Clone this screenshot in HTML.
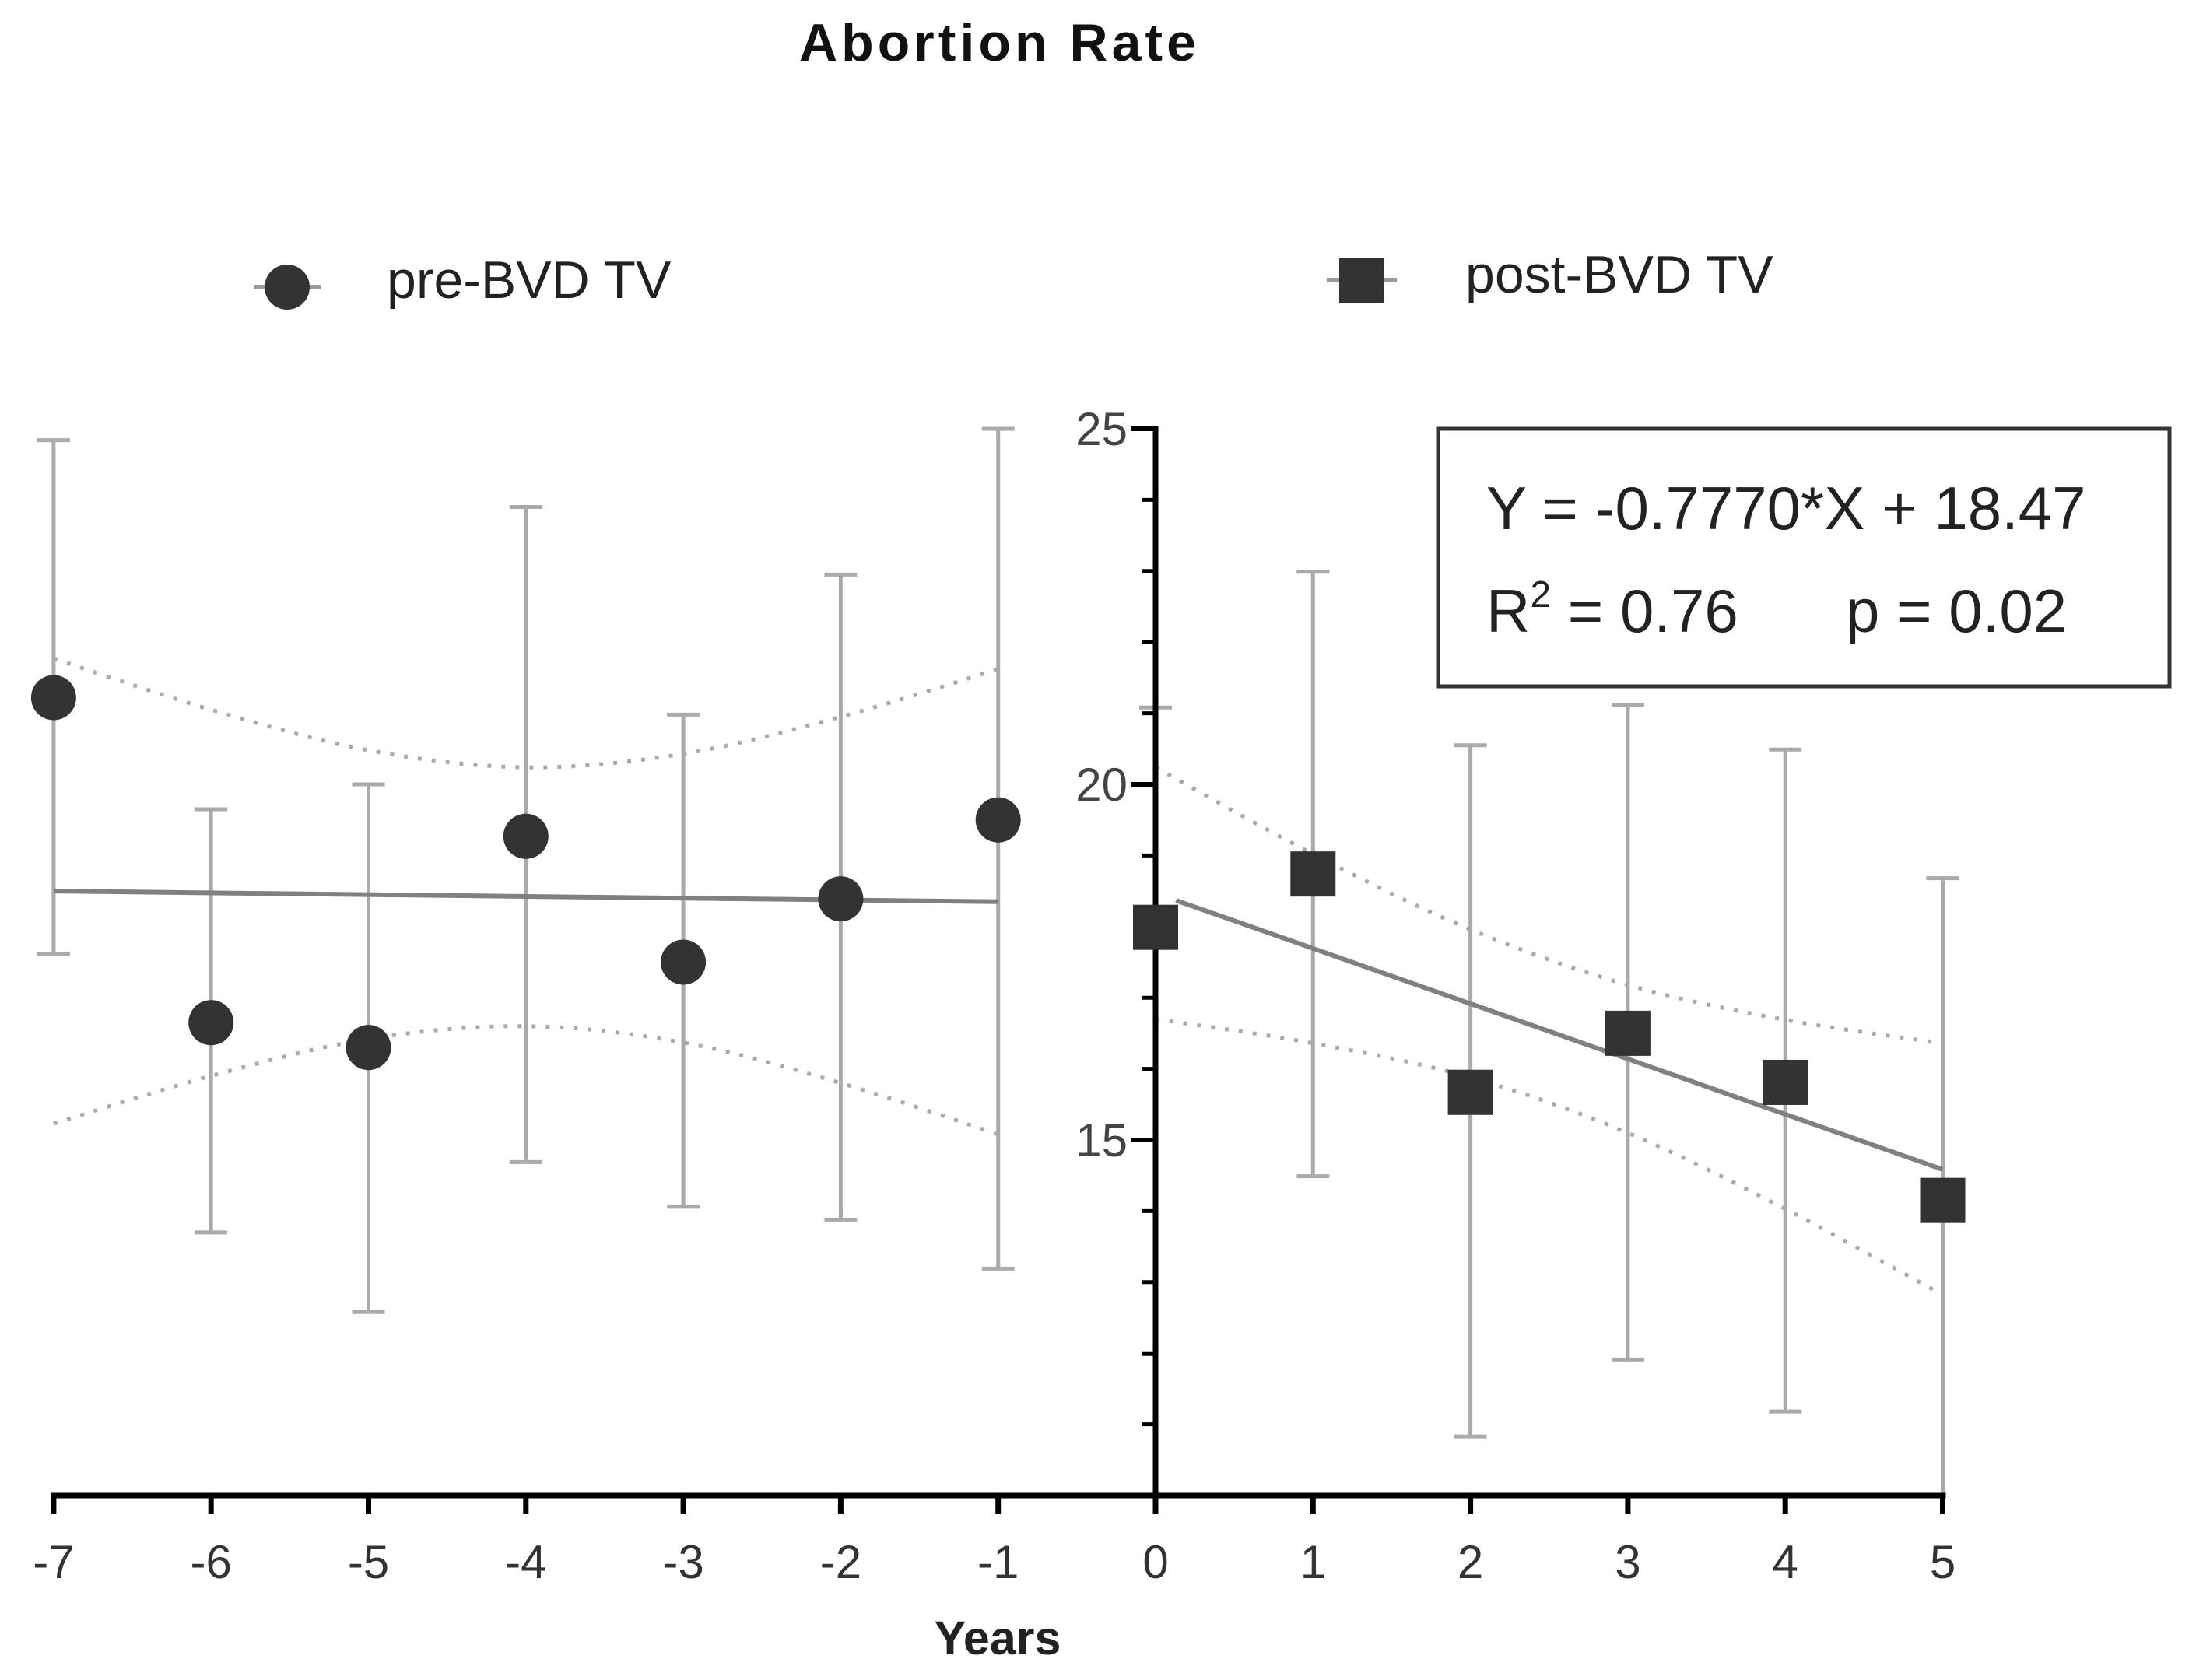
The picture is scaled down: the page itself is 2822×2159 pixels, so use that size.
<!DOCTYPE html>
<html><head><meta charset="utf-8"><style>
html,body{margin:0;padding:0;background:#fff}
svg{display:block;font-family:"Liberation Sans",Arial,sans-serif}
</style></head><body>
<svg id="chart" width="2822" height="2159" viewBox="0 0 2822 2159">
<text x="1282" y="78" text-anchor="middle" font-size="68" font-weight="bold" fill="#111" textLength="510">Abortion Rate</text>
<g>
 <g>
  <line x1="326" y1="369" x2="412" y2="369" stroke="#999" stroke-width="6"/>
  <circle cx="369" cy="369" r="29" fill="#333"/>
  <text x="497" y="383" font-size="68" fill="#222">pre-BVD TV</text>
 </g>
 <g>
  <line x1="1705" y1="360" x2="1795" y2="360" stroke="#999" stroke-width="6"/>
  <rect x="1721" y="331" width="58" height="58" fill="#333"/>
  <text x="1883" y="376" font-size="68" fill="#222">post-BVD TV</text>
 </g>
</g>
<g id="plot"></g>
<g>
 <rect x="1848" y="551" width="940" height="331" fill="#fff" stroke="#333" stroke-width="5"/>
 <text x="1910" y="680" font-size="78" fill="#222">Y = -0.7770*X + 18.47</text>
 <text x="1910" y="812" font-size="78" fill="#222">R<tspan font-size="48" dy="-32">2</tspan><tspan dy="32"> = 0.76</tspan><tspan x="2372">p = 0.02</tspan></text>
</g>
<text x="1282" y="2126" text-anchor="middle" font-size="61" font-weight="bold" fill="#222">Years</text>
</svg>
<script>
const preYears=[-7,-6,-5,-4,-3,-2,-1];
const preMean=[21.22,16.65,16.3,19.27,17.5,18.39,19.5];
const preHi=[24.84,19.65,20.0,23.9,20.98,22.95,25.0];
const preLo=[17.62,13.7,12.58,14.69,14.06,13.88,13.19];
const preFit=[18.5,18.475,18.45,18.425,18.4,18.375,18.35];
const preBandHi=[21.77,21.05,20.48,20.24,20.43,20.95,21.62];
const preBandLo=[15.23,15.9,16.42,16.6,16.37,15.8,15.08];
const postYears=[0,1,2,3,4,5];
const postMean=[17.99,18.74,15.67,16.5,15.81,14.15];
const postHi=[21.08,22.99,20.55,21.12,20.49,18.68];
const postLo=[10,14.49,10.83,11.91,11.18,10];
const postFitStart=[0.13,5];
const postSlope=-0.777, postIntercept=18.47;
const postBandHi=[20.24,19.02,17.96,17.18,16.69,16.36];
const postBandLo=[16.70,16.36,15.88,15.10,14.03,12.82];
const xTicks=[-7,-6,-5,-4,-3,-2,-1,0,1,2,3,4,5];
const yTicks=[25,20,15];

const NS="http://www.w3.org/2000/svg";
const g=document.getElementById('plot');
const X=v=>1485+v*202.3;
const Y=v=>551+(25-v)*91.4;
function mk(t,a,p){const e=document.createElementNS(NS,t);for(const k in a)e.setAttribute(k,a[k]);(p||g).appendChild(e);return e;}
function smooth(xs,ys){
 const pts=xs.map((x,i)=>[X(x),Y(ys[i])]);
 let d=`M${pts[0][0]},${pts[0][1]}`;
 for(let i=0;i<pts.length-1;i++){
  const p0=pts[Math.max(0,i-1)],p1=pts[i],p2=pts[i+1],p3=pts[Math.min(pts.length-1,i+2)];
  d+=` C${p1[0]+(p2[0]-p0[0])/6},${p1[1]+(p2[1]-p0[1])/6} ${p2[0]-(p3[0]-p1[0])/6},${p2[1]-(p3[1]-p1[1])/6} ${p2[0]},${p2[1]}`;
 }
 return d;
}
[[preYears,preBandHi,'pre-ci-upper'],[preYears,preBandLo,'pre-ci-lower'],[postYears,postBandHi,'post-ci-upper'],[postYears,postBandLo,'post-ci-lower']].forEach(b=>{
 const e=mk('path',{d:smooth(b[0],b[1]),fill:'none',stroke:'#aaa','stroke-width':5,'stroke-dasharray':'5 13'});
 
 
});
function ebars(xs,hi,lo,name){
 xs.forEach((x,i)=>{
  const eg=mk('g',{stroke:'#aaa','stroke-width':5});
  
  
  mk('line',{x1:X(x),x2:X(x),y1:Y(hi[i]),y2:Y(lo[i])},eg);
  mk('line',{x1:X(x)-21,x2:X(x)+21,y1:Y(hi[i]),y2:Y(hi[i])},eg);
  if(lo[i]>10) mk('line',{x1:X(x)-21,x2:X(x)+21,y1:Y(lo[i]),y2:Y(lo[i])},eg);
 });
}
ebars(preYears,preHi,preLo,'pre');
ebars(postYears,postHi,postLo,'post');
let f=mk('line',{x1:X(preYears[0]),y1:Y(preFit[0]),x2:X(preYears[6]),y2:Y(preFit[6]),stroke:'#808080','stroke-width':6});


f=mk('line',{x1:X(postFitStart[0]),y1:Y(postIntercept+postSlope*postFitStart[0]),x2:X(postFitStart[1]),y2:Y(postIntercept+postSlope*postFitStart[1]),stroke:'#808080','stroke-width':6});


const ax=mk('g',{stroke:'#000','stroke-width':7});


mk('line',{x1:X(-7)-3,x2:X(5)+4,y1:Y(10),y2:Y(10)},ax);
mk('line',{x1:X(0),x2:X(0),y1:Y(25)-3,y2:Y(10)+3},ax);
xTicks.forEach(t=>{
 mk('line',{x1:X(t),x2:X(t),y1:Y(10),y2:Y(10)+24},ax);
 const tx=mk('text',{x:X(t),y:2028,'text-anchor':'middle','font-size':60,fill:'#333',stroke:'none'});
 tx.textContent=t;
 
 
});
for(let v=11;v<=25;v++){
 const major=yTicks.includes(v);
 mk('line',{x1:X(0)-(major?32:18),x2:X(0),y1:Y(v),y2:Y(v),'stroke-width':major?6:5},ax);
}
yTicks.forEach(t=>{
 const tx=mk('text',{x:X(0)-36,y:Y(t)+21,'text-anchor':'end','font-size':60,fill:'#444',stroke:'none'});
 tx.textContent=t;
 
 
});
preYears.forEach((x,i)=>{
 const c=mk('circle',{cx:X(x),cy:Y(preMean[i]),r:29,fill:'#333'});
 
 
});
postYears.forEach((x,i)=>{
 const r=mk('rect',{x:X(x)-29,y:Y(postMean[i])-29,width:58,height:58,fill:'#333'});
 
 
});
</script>
</body></html>
